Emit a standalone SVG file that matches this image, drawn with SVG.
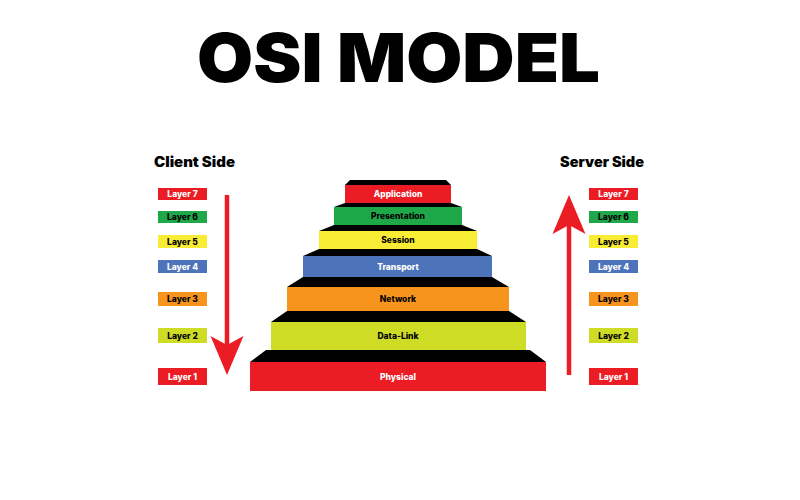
<svg xmlns="http://www.w3.org/2000/svg" width="800" height="500" viewBox="0 0 800 500">
<style>
text{font-family:"Liberation Sans",Arial,sans-serif;font-weight:bold;text-anchor:middle}
.title{font-family:Inter,"Liberation Sans",Arial,sans-serif;font-weight:900;font-size:68px}
.side{font-family:Inter,"Liberation Sans",Arial,sans-serif;font-weight:900;font-size:14px}
.lbl{font-family:Inter,"Liberation Sans",Arial,sans-serif;font-weight:800;font-size:8.5px}
.w{fill:#fff}
.k{fill:#000}
.red{fill:#ec1c24}
.green{fill:#1ea84a}
.yellow{fill:#f9ec35}
.blue{fill:#4d73ba}
.orange{fill:#f7941e}
.lime{fill:#cfdc26}
.riser{fill:#000}
.arrow{stroke:#ec1c24;stroke-width:4.5;fill:none}
</style>
<defs>
<marker id="head" markerUnits="userSpaceOnUse" viewBox="0 -17 40 34" markerWidth="40" markerHeight="34" refX="9" refY="0" orient="auto">
<path d="M0,-16.5 L39,0 L0,16.5 L9,0 Z" fill="#ec1c24"/>
</marker>
</defs>
<rect width="800" height="500" fill="#fff"/>
<text class="title" x="398.5" y="82" textLength="403" lengthAdjust="spacingAndGlyphs">OSI MODEL</text>
<text class="side" x="194.5" y="167" textLength="81" lengthAdjust="spacingAndGlyphs">Client Side</text>
<text class="side" x="602" y="167" textLength="84" lengthAdjust="spacingAndGlyphs">Server Side</text>

<g id="connectors">
<line class="arrow" x1="227" y1="195" x2="227" y2="345" marker-end="url(#head)"/>
<line class="arrow" x1="569" y1="375" x2="569" y2="225" marker-end="url(#head)"/>
</g>

<g id="step-application">
<polygon class="riser" points="350,180 446,180 451,185 345,185"/>
<rect class="red" x="345" y="185" width="106" height="18"/>
<text class="lbl w" x="398" y="197.3">Application</text>
</g>
<g id="step-presentation">
<polygon class="riser" points="345,203 451,203 462,207 334,207"/>
<rect class="green" x="334" y="207" width="128" height="18"/>
<text class="lbl k" x="398" y="219.3">Presentation</text>
</g>
<g id="step-session">
<polygon class="riser" points="334,225 462,225 477,231 319,231"/>
<rect class="yellow" x="319" y="231" width="158" height="18"/>
<text class="lbl k" x="398" y="243.3">Session</text>
</g>
<g id="step-transport">
<polygon class="riser" points="319,249 477,249 492,256 303,256"/>
<rect class="blue" x="303" y="256" width="189" height="21"/>
<text class="lbl w" x="398" y="269.8">Transport</text>
</g>
<g id="step-network">
<polygon class="riser" points="303,277 492,277 509,287 287,287"/>
<rect class="orange" x="287" y="287" width="222" height="24"/>
<text class="lbl k" x="398" y="302.3">Network</text>
</g>
<g id="step-datalink">
<polygon class="riser" points="287,311 509,311 526,322 271,322"/>
<rect class="lime" x="271" y="322" width="255" height="28"/>
<text class="lbl k" x="398" y="339.3">Data-Link</text>
</g>
<g id="step-physical">
<polygon class="riser" points="266,350 530,350 546,362 250,362"/>
<rect class="red" x="250" y="362" width="296" height="29"/>
<text class="lbl w" x="398" y="379.8">Physical</text>
</g>

<g id="client-layer7"><rect class="red" x="158" y="188" width="49" height="12"/><text class="lbl w" x="182.5" y="197.2">Layer 7</text></g>
<g id="client-layer6"><rect class="green" x="158" y="211" width="49" height="12"/><text class="lbl k" x="182.5" y="220.2">Layer 6</text></g>
<g id="client-layer5"><rect class="yellow" x="158" y="235" width="49" height="13"/><text class="lbl k" x="182.5" y="244.7">Layer 5</text></g>
<g id="client-layer4"><rect class="blue" x="158" y="260" width="49" height="13"/><text class="lbl w" x="182.5" y="269.7">Layer 4</text></g>
<g id="client-layer3"><rect class="orange" x="158" y="292" width="49" height="14"/><text class="lbl k" x="182.5" y="302.2">Layer 3</text></g>
<g id="client-layer2"><rect class="lime" x="158" y="328" width="49" height="15"/><text class="lbl k" x="182.5" y="338.7">Layer 2</text></g>
<g id="client-layer1"><rect class="red" x="158" y="368" width="49" height="17"/><text class="lbl w" x="182.5" y="379.7">Layer 1</text></g>

<g id="server-layer7"><rect class="red" x="589" y="188" width="49" height="12"/><text class="lbl w" x="613.5" y="197.2">Layer 7</text></g>
<g id="server-layer6"><rect class="green" x="589" y="211" width="49" height="12"/><text class="lbl k" x="613.5" y="220.2">Layer 6</text></g>
<g id="server-layer5"><rect class="yellow" x="589" y="235" width="49" height="13"/><text class="lbl k" x="613.5" y="244.7">Layer 5</text></g>
<g id="server-layer4"><rect class="blue" x="589" y="260" width="49" height="13"/><text class="lbl w" x="613.5" y="269.7">Layer 4</text></g>
<g id="server-layer3"><rect class="orange" x="589" y="292" width="49" height="14"/><text class="lbl k" x="613.5" y="302.2">Layer 3</text></g>
<g id="server-layer2"><rect class="lime" x="589" y="328" width="49" height="15"/><text class="lbl k" x="613.5" y="338.7">Layer 2</text></g>
<g id="server-layer1"><rect class="red" x="589" y="368" width="49" height="17"/><text class="lbl w" x="613.5" y="379.7">Layer 1</text></g>
</svg>
